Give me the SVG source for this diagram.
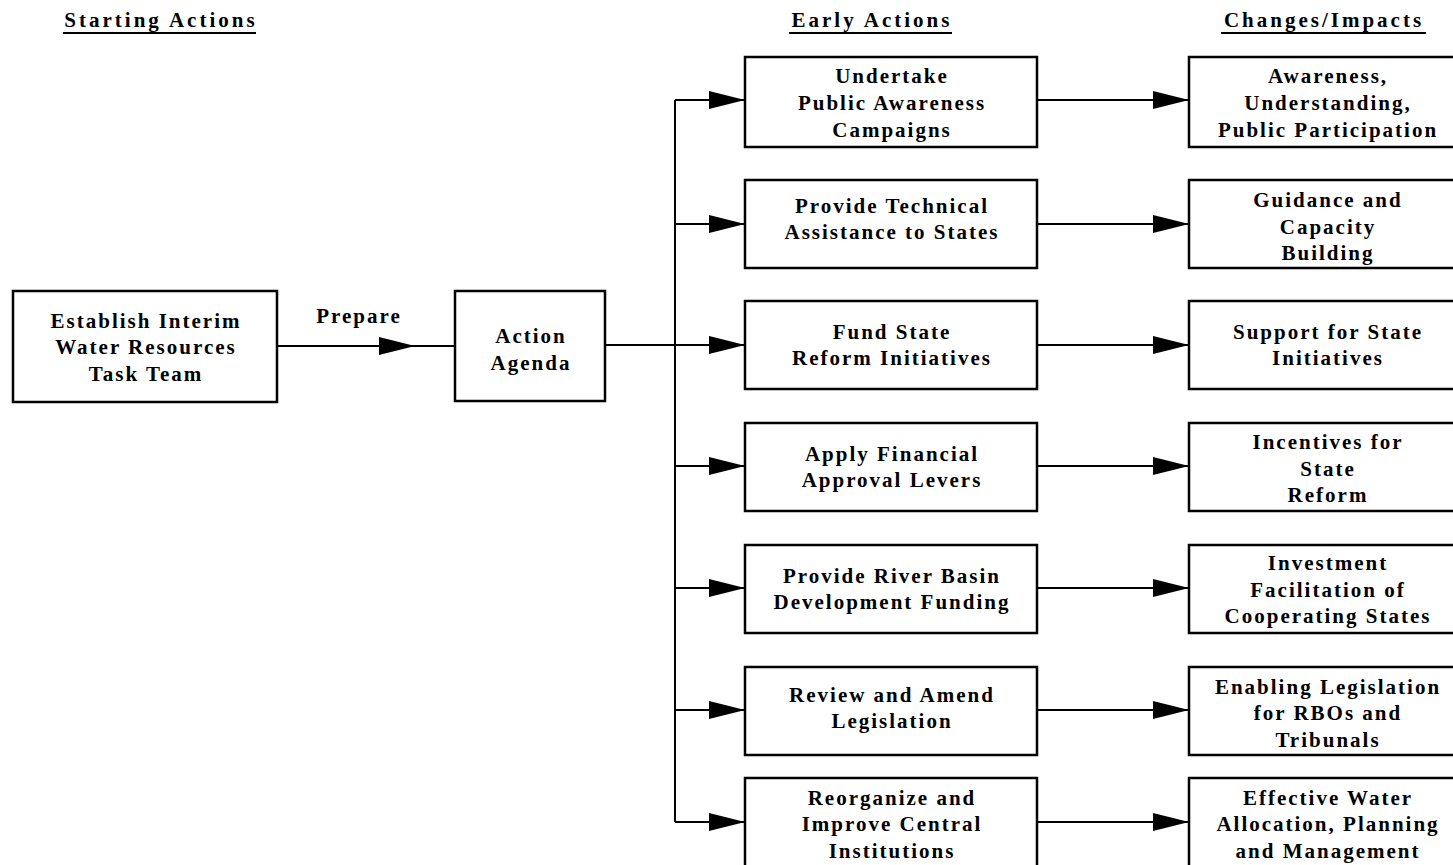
<svg xmlns="http://www.w3.org/2000/svg" width="1453" height="865" viewBox="0 0 1453 865">
<defs>
<style>
.box{fill:#fff;stroke:#000;stroke-width:2.5}
.ln{fill:none;stroke:#000;stroke-width:2}
.t{font-family:"Liberation Serif","Times New Roman",serif;font-weight:bold;font-size:21px;letter-spacing:2px;text-anchor:middle;fill:#000}
.h{font-family:"Liberation Serif","Times New Roman",serif;font-weight:bold;font-size:21px;letter-spacing:3px;text-anchor:middle;fill:#000}
.ul{stroke:#000;stroke-width:1.8}
</style>
<marker id="ah" markerWidth="36" markerHeight="18" refX="36" refY="9" orient="auto" markerUnits="userSpaceOnUse">
<path d="M0,0 L36,9 L0,18 Z" fill="#000"/>
</marker>
</defs>
<rect width="1453" height="865" fill="#fff"/>

<g id="headings">
<text class="h" x="161" y="27">Starting Actions</text>
<line class="ul" x1="63" y1="33" x2="256" y2="33"/>
<text class="h" x="872" y="27">Early Actions</text>
<line class="ul" x1="789" y1="33" x2="952" y2="33"/>
<text class="h" x="1324" y="27">Changes/Impacts</text>
<line class="ul" x1="1221" y1="33" x2="1426" y2="33"/>
</g>

<g id="connectors">
<line class="ln" x1="277" y1="346" x2="455" y2="346"/>
<line class="ln" x1="277" y1="346" x2="415" y2="346" marker-end="url(#ah)"/>
<text class="t" x="359" y="323">Prepare</text>
<line class="ln" x1="605" y1="345" x2="675" y2="345"/>
<line class="ln" x1="675" y1="100" x2="675" y2="822"/>
<line class="ln" x1="675" y1="100" x2="745" y2="100" marker-end="url(#ah)"/>
<line class="ln" x1="675" y1="224" x2="745" y2="224" marker-end="url(#ah)"/>
<line class="ln" x1="675" y1="345" x2="745" y2="345" marker-end="url(#ah)"/>
<line class="ln" x1="675" y1="466" x2="745" y2="466" marker-end="url(#ah)"/>
<line class="ln" x1="675" y1="588" x2="745" y2="588" marker-end="url(#ah)"/>
<line class="ln" x1="675" y1="710" x2="745" y2="710" marker-end="url(#ah)"/>
<line class="ln" x1="675" y1="822" x2="745" y2="822" marker-end="url(#ah)"/>
<line class="ln" x1="1037" y1="100" x2="1189" y2="100" marker-end="url(#ah)"/>
<line class="ln" x1="1037" y1="224" x2="1189" y2="224" marker-end="url(#ah)"/>
<line class="ln" x1="1037" y1="345" x2="1189" y2="345" marker-end="url(#ah)"/>
<line class="ln" x1="1037" y1="466" x2="1189" y2="466" marker-end="url(#ah)"/>
<line class="ln" x1="1037" y1="588" x2="1189" y2="588" marker-end="url(#ah)"/>
<line class="ln" x1="1037" y1="710" x2="1189" y2="710" marker-end="url(#ah)"/>
<line class="ln" x1="1037" y1="822" x2="1189" y2="822" marker-end="url(#ah)"/>
</g>

<g id="n-establish">
<rect class="box" x="13" y="291" width="264" height="111"/>
<text class="t" x="146" y="328">Establish Interim</text>
<text class="t" x="146" y="354">Water Resources</text>
<text class="t" x="146" y="381">Task Team</text>
</g>
<g id="n-agenda">
<rect class="box" x="455" y="291" width="150" height="110"/>
<text class="t" x="531" y="343">Action</text>
<text class="t" x="531" y="370">Agenda</text>
</g>

<g id="e1">
<rect class="box" x="745" y="57" width="292" height="90"/>
<text class="t" x="892" y="82.5">Undertake</text>
<text class="t" x="892" y="110">Public Awareness</text>
<text class="t" x="892" y="137">Campaigns</text>
</g>
<g id="e2">
<rect class="box" x="745" y="180" width="292" height="88"/>
<text class="t" x="892" y="212.5">Provide Technical</text>
<text class="t" x="892" y="238.5">Assistance to States</text>
</g>
<g id="e3">
<rect class="box" x="745" y="301" width="292" height="88"/>
<text class="t" x="892" y="338.5">Fund State</text>
<text class="t" x="892" y="364.5">Reform Initiatives</text>
</g>
<g id="e4">
<rect class="box" x="745" y="423" width="292" height="88"/>
<text class="t" x="892" y="460.5">Apply Financial</text>
<text class="t" x="892" y="486.5">Approval Levers</text>
</g>
<g id="e5">
<rect class="box" x="745" y="545" width="292" height="88"/>
<text class="t" x="892" y="582.5">Provide River Basin</text>
<text class="t" x="892" y="608.5">Development Funding</text>
</g>
<g id="e6">
<rect class="box" x="745" y="667" width="292" height="88"/>
<text class="t" x="892" y="701.5">Review and Amend</text>
<text class="t" x="892" y="727.5">Legislation</text>
</g>
<g id="e7">
<rect class="box" x="745" y="778" width="292" height="92"/>
<text class="t" x="892" y="804.5">Reorganize and</text>
<text class="t" x="892" y="830.5">Improve Central</text>
<text class="t" x="892" y="857.5">Institutions</text>
</g>

<g id="c1">
<rect class="box" x="1189" y="57" width="275" height="90"/>
<text class="t" x="1328" y="82.5">Awareness,</text>
<text class="t" x="1328" y="109.5">Understanding,</text>
<text class="t" x="1328" y="136.5">Public Participation</text>
</g>
<g id="c2">
<rect class="box" x="1189" y="180" width="275" height="88"/>
<text class="t" x="1328" y="206.5">Guidance and</text>
<text class="t" x="1328" y="233.5">Capacity</text>
<text class="t" x="1328" y="259.5">Building</text>
</g>
<g id="c3">
<rect class="box" x="1189" y="301" width="275" height="88"/>
<text class="t" x="1328" y="338.5">Support for State</text>
<text class="t" x="1328" y="364.5">Initiatives</text>
</g>
<g id="c4">
<rect class="box" x="1189" y="423" width="275" height="88"/>
<text class="t" x="1328" y="448.5">Incentives for</text>
<text class="t" x="1328" y="475.5">State</text>
<text class="t" x="1328" y="501.5">Reform</text>
</g>
<g id="c5">
<rect class="box" x="1189" y="545" width="275" height="88"/>
<text class="t" x="1328" y="569.5">Investment</text>
<text class="t" x="1328" y="596.5">Facilitation of</text>
<text class="t" x="1328" y="622.5">Cooperating States</text>
</g>
<g id="c6">
<rect class="box" x="1189" y="667" width="275" height="88"/>
<text class="t" x="1328" y="693.5">Enabling Legislation</text>
<text class="t" x="1328" y="719.5">for RBOs and</text>
<text class="t" x="1328" y="746.5">Tribunals</text>
</g>
<g id="c7">
<rect class="box" x="1189" y="778" width="275" height="92"/>
<text class="t" x="1328" y="804.5">Effective Water</text>
<text class="t" x="1328" y="830.5">Allocation, Planning</text>
<text class="t" x="1328" y="857.5">and Management</text>
</g>
</svg>
